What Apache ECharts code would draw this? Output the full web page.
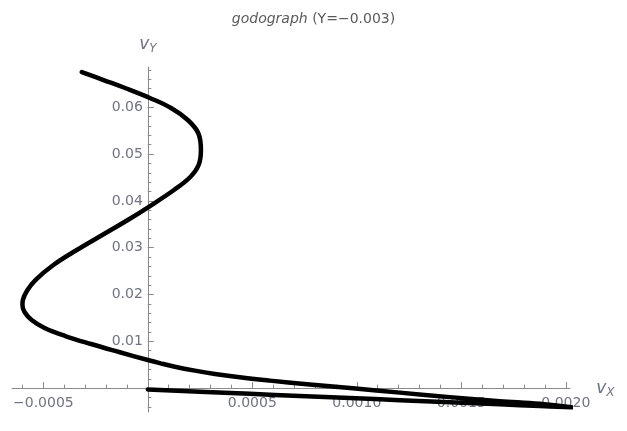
<!DOCTYPE html>
<html>
<head>
<meta charset="utf-8">
<script src="https://cdn.jsdelivr.net/npm/echarts@6/dist/echarts.min.js"></script>
<style>html,body{margin:0;padding:0;background:#fff}#c{width:627px;height:431px}</style>
</head>
<body>
<div id="c"></div>
<script>
// hodograph points (vX, vY), in drawing order
const vx = [0, 0.000249, 0.000488, 0.000727, 0.000967, 0.001206, 0.001445, 0.001684, 0.001876, 0.002029,
  0.001876, 0.001684, 0.001445, 0.001206, 0.000981, 0.000761, 0.000584, 0.00044, 0.000321, 0.000225, 0.000129, 0.000057, 0,
  -0.000138, -0.000272, -0.000395, -0.000494, -0.000556, -0.00059, -0.0006, -0.000598, -0.000576, -0.000538,
  -0.000452, -0.00034, -0.000218, -0.000096, 0.000003, 0.000125, 0.000203, 0.000243, 0.000254,
  0.000241, 0.000191, 0.000111, 0.00001, -0.000109, -0.000212, -0.000316];
const vy = [-0.0003, -0.000769, -0.001218, -0.001667, -0.002115, -0.002564, -0.003012, -0.003461, -0.003824, -0.004102,
  -0.003354, -0.002777, -0.001923, -0.000961, -0.000043, 0.000833, 0.001602, 0.002307, 0.003034, 0.003739, 0.004572, 0.005341, 0.006003,
  0.007712, 0.009421, 0.01113, 0.012839, 0.014548, 0.016257, 0.017753, 0.018821, 0.020957, 0.023093,
  0.026298, 0.029502, 0.032707, 0.035911, 0.038688, 0.04232, 0.045097, 0.047661, 0.050865,
  0.054497, 0.057274, 0.059837, 0.061974, 0.06411, 0.065819, 0.067528];

const xTickValues = [-0.0005, 0.0005, 0.0010, 0.0015, 0.0020];
const xTickLabels = ['\u22120.0005', '0.0005', '0.0010', '0.0015', '0.0020'];
const yTickValues = [0.01, 0.02, 0.03, 0.04, 0.05, 0.06];
const yTickLabels = ['0.01', '0.02', '0.03', '0.04', '0.05', '0.06'];

const titleMain = 'godograph';
const titleRest = ' (Y=\u22120.003)';

const X_MIN = -0.00065, X_MAX = 0.00202, Y_MIN = -0.0051, Y_MAX = 0.0686;

const xMinor = [];
for (let i = -6; i <= 20; i++) xMinor.push(i / 10000);
const yMinor = [];
for (let i = -2; i <= 34; i++) yMinor.push(i / 500);

const GRID = {left: 12, right: 57, top: 67, bottom: 19};
const W = 627, H = 431;
const gw = W - GRID.left - GRID.right, gh = H - GRID.top - GRID.bottom;
// place axes where the other axis has value 0
const yOffset = -(0 - X_MIN) / (X_MAX - X_MIN) * gw;
const xOffset = -(0 - Y_MIN) / (Y_MAX - Y_MIN) * gh;

const FONT = 'DejaVu Sans';
const LABEL_COLOR = '#6e7386';
const AXIS_COLOR = '#8a8a8a';

function lookup(vals, labels) {
  return function (v) {
    for (let i = 0; i < vals.length; i++) if (Math.abs(vals[i] - v) < 1e-9) return labels[i];
    return '';
  };
}

const nameRich = {
  v: {fontFamily: FONT, fontSize: 17, fontStyle: 'italic', color: LABEL_COLOR},
  s: {fontFamily: FONT, fontSize: 12, fontStyle: 'italic', color: LABEL_COLOR, padding: [9, 0, 0, 0]}
};

const chart = echarts.init(document.getElementById('c'), null, {renderer: 'canvas'});
chart.setOption({
  animation: false,
  backgroundColor: '#fff',
  title: {
    text: '{i|' + titleMain + '}{n|' + titleRest + '}',
    left: 'center', top: 7,
    textStyle: {
      fontWeight: 'normal',
      rich: {
        i: {fontFamily: FONT, fontSize: 14, fontStyle: 'italic', fontWeight: 'normal', color: '#5a5a5a'},
        n: {fontFamily: FONT, fontSize: 14, fontWeight: 'normal', color: '#5a5a5a'}
      }
    }
  },
  grid: Object.assign({outerBoundsMode: 'none', containLabel: false}, GRID),
  xAxis: [{
    type: 'value', min: X_MIN, max: X_MAX, position: 'bottom', offset: xOffset,
    axisLine: {show: true, onZero: false, lineStyle: {color: AXIS_COLOR, width: 1}},
    axisTick: {show: true, inside: true, length: 6, customValues: xTickValues, lineStyle: {color: AXIS_COLOR}},
    axisLabel: {show: true, customValues: xTickValues, formatter: lookup(xTickValues, xTickLabels),
      margin: 8, color: LABEL_COLOR, fontFamily: FONT, fontSize: 14},
    splitLine: {show: false},
    name: '{v|v}{s|X}', nameLocation: 'end', nameGap: 24,
    nameTextStyle: {rich: nameRich}
  }, {
    type: 'value', min: X_MIN, max: X_MAX, position: 'bottom', offset: xOffset,
    axisLine: {show: false, onZero: false},
    axisTick: {show: true, inside: true, length: 3.5, customValues: xMinor, lineStyle: {color: AXIS_COLOR}},
    axisLabel: {show: false},
    splitLine: {show: false}
  }],
  yAxis: [{
    type: 'value', min: Y_MIN, max: Y_MAX, position: 'left', offset: yOffset,
    axisLine: {show: true, onZero: false, lineStyle: {color: AXIS_COLOR, width: 1}},
    axisTick: {show: true, inside: true, length: 6, customValues: yTickValues, lineStyle: {color: AXIS_COLOR}},
    axisLabel: {show: true, customValues: yTickValues, formatter: lookup(yTickValues, yTickLabels),
      margin: 5, color: LABEL_COLOR, fontFamily: FONT, fontSize: 14},
    splitLine: {show: false},
    name: '{v|v}{s|Y}', nameLocation: 'end', nameGap: 12,
    nameTextStyle: {rich: nameRich}
  }, {
    type: 'value', min: Y_MIN, max: Y_MAX, position: 'left', offset: yOffset,
    axisLine: {show: false, onZero: false},
    axisTick: {show: true, inside: true, length: 3.5, customValues: yMinor, lineStyle: {color: AXIS_COLOR}},
    axisLabel: {show: false},
    splitLine: {show: false}
  }],
  series: [{
    type: 'line',
    xAxisIndex: 0, yAxisIndex: 0,
    data: vx.map((x, i) => [x, vy[i]]),
    showSymbol: false,
    smooth: 0.4,
    clip: false,
    lineStyle: {color: '#000', width: 4.5, join: 'round', cap: 'round'}
  }]
});
</script>
</body>
</html>
